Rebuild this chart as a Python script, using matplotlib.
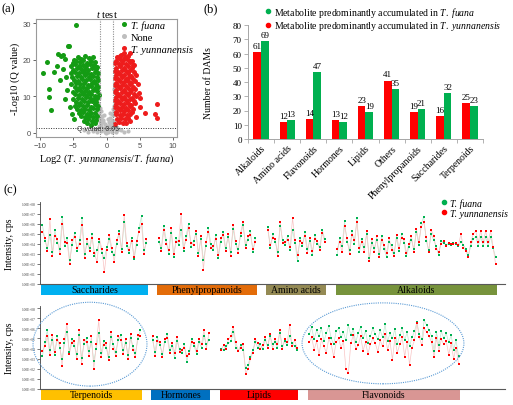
#Recreating the three-panel metabolite figure (volcano, bar chart, intensity strips).
import numpy as np
import matplotlib
matplotlib.use("Agg")
import matplotlib.pyplot as plt
from matplotlib.patches import Rectangle, Ellipse
from matplotlib.lines import Line2D

plt.rcParams['font.family'] = ['Liberation Serif', 'DejaVu Serif']
plt.rcParams['mathtext.fontset'] = 'custom'
plt.rcParams['mathtext.rm'] = 'Liberation Serif'
plt.rcParams['mathtext.it'] = 'Liberation Serif:italic'

#---------------- (a) volcano data: log2 fold change / -log10 Q ----------------
fuana_x = [-9.6, -8.9, -8.7, -8.6, -8.4, -7.9, -7.4, -7.3, -6.9, -6.6, -6.2, -5.8, -5.6, -4.6, -7.0, -6.5, -6.1, -5.9, -6.3, -5.5, -5.2, -4.9,
           -4.9, -4.3, -3.8, -3.2, -2.6, -2.0,
           -5.1, -4.6, -4.0, -3.5, -2.9, -2.3, -1.7,
           -5.3, -4.8, -4.2, -3.6, -3.1, -2.5, -1.9, -1.4,
           -5.0, -4.4, -3.9, -3.3, -2.8, -2.2, -1.6,
           -5.4, -4.7, -4.1, -3.5, -3.0, -2.4, -1.8, -1.3,
           -5.2, -4.5, -3.8, -3.2, -2.7, -2.1, -1.5,
           -4.9, -4.3, -3.7, -3.1, -2.5, -1.9, -1.3,
           -5.3, -4.6, -4.0, -3.4, -2.8, -2.2, -1.6,
           -4.8, -4.2, -3.6, -3.0, -2.4, -1.8, -1.3,
           -5.1, -4.4, -3.8, -3.2, -2.6, -2.0, -1.5,
           -4.7, -4.1, -3.5, -2.9, -2.3, -1.7, -1.2,
           -5.0, -4.3, -3.7, -3.1, -2.5, -1.9, -1.4,
           -4.6, -4.0, -3.4, -2.8, -2.2, -1.6,
           -4.8, -4.2, -3.6, -3.0, -2.4, -1.8, -1.3,
           -4.4, -3.8, -3.2, -2.6, -2.0, -1.5,
           -4.1, -3.5, -2.9, -2.3, -1.7,
           -3.8, -3.2, -2.6, -2.0, -1.4,
           -3.4, -2.8, -2.2, -1.6,
           -3.0, -2.4, -1.8]
fuana_y = [16.5, 19.3, 12.1, 9.8, 6.2, 16.8, 18.2, 21.7, 21.2, 21.4, 20.3, 23.8, 23.9, 29.5, 14.5, 17.5, 15.2, 11.8, 9.4, 7.0, 5.3, 3.8,
           20.1, 20.8, 20.3, 21.0, 20.4, 20.7,
           19.2, 19.8, 19.4, 19.9, 19.1, 19.6, 19.3,
           18.4, 18.9, 18.2, 18.7, 18.3, 18.8, 18.5, 18.1,
           17.3, 17.8, 17.4, 17.6, 17.2, 17.7, 17.4,
           16.4, 16.8, 16.3, 16.7, 16.5, 16.2, 16.8, 16.4,
           15.3, 15.7, 15.4, 15.8, 15.2, 15.6, 15.4,
           14.6, 14.3, 14.7, 14.4, 14.8, 14.2, 14.5,
           13.4, 13.8, 13.3, 13.6, 13.2, 13.7, 13.4,
           12.6, 12.2, 12.7, 12.4, 12.8, 12.3, 12.6,
           11.3, 11.7, 11.4, 11.6, 11.2, 11.8, 11.4,
           10.6, 10.3, 10.8, 10.4, 10.7, 10.2, 10.5,
           9.4, 9.7, 9.3, 9.8, 9.5, 9.2, 9.6,
           8.6, 8.3, 8.7, 8.4, 8.8, 8.5,
           7.4, 7.7, 7.3, 7.6, 7.2, 7.8, 7.5,
           6.6, 6.3, 6.7, 6.4, 6.8, 6.5,
           5.4, 5.7, 5.3, 5.6, 5.5,
           4.6, 4.3, 4.7, 4.4, 4.6,
           3.4, 3.7, 3.3, 3.6,
           2.6, 2.3, 2.7]

yunn_x = [7.6, 7.6, 7.3, 5.8, 5.1, 4.9, 5.0, 4.7, 4.5, 4.2, 3.9, 3.5, 2.6, 2.0, 4.4, 3.6, 2.9, 1.3,
          1.6, 2.2, 2.8, 3.3,
          1.4, 2.0, 2.5, 3.1, 3.6,
          1.3, 1.9, 2.4, 3.0, 3.5, 4.0,
          1.5, 2.1, 2.7, 3.2, 3.8,
          1.3, 1.8, 2.4, 2.9, 3.5, 4.1,
          1.5, 2.1, 2.6, 3.2, 3.7,
          1.3, 1.8, 2.4, 2.9, 3.4, 4.0,
          1.5, 2.1, 2.6, 3.2, 3.7, 4.3,
          1.3, 1.8, 2.4, 2.9, 3.5, 4.0,
          1.5, 2.1, 2.6, 3.2, 3.7, 4.3,
          1.3, 1.8, 2.4, 2.9, 3.5, 4.1,
          1.5, 2.1, 2.6, 3.2, 3.8, 4.4,
          1.3, 1.8, 2.4, 2.9, 3.5, 4.1,
          1.5, 2.1, 2.6, 3.2, 3.7, 4.3,
          1.3, 1.8, 2.4, 2.9, 3.5, 4.0,
          1.5, 2.1, 2.6, 3.2, 3.8,
          1.4, 2.0, 2.5, 3.1, 3.6,
          1.6, 2.2, 2.8, 3.3,
          1.9, 2.5]
yunn_y = [8.0, 4.2, 5.1, 5.6, 7.2, 11.0, 9.5, 13.5, 15.8, 18.5, 19.6, 22.0, 21.8, 21.2, 4.3, 3.2, 2.6, 2.4,
          20.8, 21.3, 20.9, 21.2,
          19.8, 20.2, 19.9, 20.3, 19.7,
          19.1, 18.8, 19.2, 18.9, 19.3, 18.7,
          17.8, 18.2, 17.9, 18.3, 17.7,
          17.1, 16.8, 17.2, 16.9, 17.3, 16.7,
          15.8, 16.2, 15.9, 16.3, 15.7,
          15.1, 14.8, 15.2, 14.9, 15.3, 14.7,
          13.8, 14.2, 13.9, 14.3, 13.7, 14.1,
          13.1, 12.8, 13.2, 12.9, 13.3, 12.7,
          11.8, 12.2, 11.9, 12.3, 11.7, 12.1,
          11.1, 10.8, 11.2, 10.9, 11.3, 10.7,
          9.8, 10.2, 9.9, 10.3, 9.7, 10.1,
          9.1, 8.8, 9.2, 8.9, 9.3, 8.7,
          7.8, 8.2, 7.9, 8.3, 7.7, 8.1,
          7.1, 6.8, 7.2, 6.9, 7.3, 6.7,
          5.8, 6.2, 5.9, 6.3, 5.7,
          5.1, 4.8, 5.2, 4.9, 5.3,
          3.8, 4.2, 3.9, 4.1,
          3.1, 2.8]

none_x = [-0.2, 0.1, 0.3, -0.4, 0.5, -0.6, 0.7, -0.8, 0.9, -1.0, 1.1, -1.1, 1.0, -1.2, 1.2, -1.0, 1.1, -1.3, 1.3, -1.1,
          0.0, 0.2, -0.3, 0.4, -0.5, 0.6, -0.7, 0.8, -0.9, 1.0, -1.5, 1.6, -2.1, 2.2, -2.8, 2.7, -1.8, 1.9, -1.4, 1.4,
          -0.9, 0.9, -0.6, 0.6, -0.8, 0.8, -1.2, 1.2, -0.1, 0.3, -0.4, 0.5, -1.4, 1.4, -1.2, 1.2, -1.3, -3.4, 3.3, -0.05]
none_y = [0.3, 0.5, 0.2, 0.8, 1.0, 1.4, 1.8, 2.2, 2.6, 3.0, 3.4, 4.2, 4.8, 5.5, 6.1, 6.8, 7.4, 8.1, 8.8, 9.5,
          1.2, 2.0, 2.4, 3.0, 3.5, 4.1, 4.7, 5.3, 5.9, 6.6, 1.0, 0.7, 0.5, 0.9, 0.3, 0.4, 1.1, 1.2, 0.2, 0.3,
          0.6, 0.4, 2.9, 2.7, 3.8, 3.6, 2.0, 1.6, 1.8, 3.8, 5.0, 5.6, 7.2, 10.2, 11.0, 12.0, 13.0, 0.9, 0.6, 0.1]

#---------------- (b) number of DAMs ----------------
dam_classes = ['Alkaloids', 'Amino acids', 'Flavonoids', 'Hormones', 'Lipids',
               'Others', 'Phenylpropanoids', 'Saccharides', 'Terpenoids']
dam_yunnanensis = [61, 12, 14, 13, 23, 41, 19, 16, 25]
dam_fuana = [69, 13, 47, 12, 19, 35, 21, 32, 23]

#---------------- (c) log10 intensity per metabolite ----------------
top_classes = ['Saccharides', 'Phenylpropanoids', 'Amino acids', 'Alkaloids']
top_fuana = [
    [5.9, 4.3, 3.6, 4.9, 3.2, 5.4, 4.1, 3.5, 6.7, 3.8, 4.6, 2.4, 3.9, 5.1, 3.3, 4.4, 6.6, 3.0, 4.0, 3.6, 5.0, 2.8,
     3.4, 4.2, 3.1, 2.6, 3.7, 4.5, 3.2, 2.9, 4.0, 5.3, 3.5, 6.2, 3.8, 3.1, 4.6, 2.5, 3.9, 5.6, 6.8, 3.4, 4.1],
    [4.2, 3.6, 5.8, 4.4, 3.0, 5.1, 2.7, 4.6, 3.9, 5.4, 3.3, 4.8, 6.0, 3.7, 4.3, 5.0, 3.1, 4.5, 2.4, 3.8,
     5.6, 4.0, 3.4, 4.9, 2.6, 4.2, 5.2, 3.6, 4.7, 3.2, 5.5, 4.0, 3.5, 4.8, 5.9, 3.9, 4.4, 5.3, 3.2, 4.6],
    [5.7, 3.6, 5.0, 4.2, 3.2, 5.8, 4.4, 3.9, 4.8, 3.4, 5.4, 4.1, 2.3, 4.6, 3.8, 5.2, 3.5, 4.3, 2.9, 4.9, 4.0, 3.7, 5.4, 4.5],
    [2.9, 4.6, 3.8, 6.3, 4.2, 3.4, 5.3, 4.0, 6.6, 3.2, 4.5, 3.7, 5.0, 2.6, 4.1, 3.6, 4.4, 3.0, 4.8, 3.5, 2.7, 4.2,
     3.9, 3.1, 4.6, 3.3, 5.0, 4.1, 2.8, 3.7, 4.4, 3.5, 5.2, 3.9, 6.1, 6.7, 4.3, 3.4, 5.0, 4.4, 3.8, 2.9, 4.3, 4.1,
     3.9, 4.0, 3.9, 4.1, 4.0, 3.8, 4.2, 3.9, 3.5, 2.9, 3.8, 4.5, 4.7, 3.8, 4.7, 3.8, 4.7, 3.8, 4.7, 3.6, 2.7]]
top_yunnanensis = [
    [5.2, 4.6, 3.3, 6.5, 2.8, 4.8, 4.5, 3.0, 6.0, 4.2, 4.1, 2.0, 4.4, 4.7, 3.6, 4.0, 5.9, 2.6, 4.5, 3.3, 4.6, 3.1,
     2.2, 4.5, 3.5, 1.2, 3.4, 4.9, 3.6, 2.2, 4.4, 5.0, 3.2, 6.9, 4.1, 3.4, 4.3, 2.7, 4.3, 5.2, 6.0, 3.0, 4.5],
    [4.6, 3.3, 5.4, 4.0, 3.4, 5.6, 3.0, 4.2, 4.3, 7.0, 3.6, 4.4, 5.6, 4.1, 3.9, 5.3, 2.8, 4.8, 1.4, 4.2,
     5.2, 3.6, 3.8, 4.5, 2.9, 4.6, 4.9, 3.3, 5.0, 2.8, 5.9, 4.3, 3.1, 5.1, 6.2, 3.6, 4.8, 4.9, 3.5, 4.2],
    [5.4, 3.9, 4.6, 4.5, 2.8, 6.2, 4.1, 4.2, 4.4, 3.7, 6.6, 4.4, 2.9, 4.3, 4.1, 4.8, 3.1, 4.6, 3.3, 4.5, 4.3, 3.4, 5.1, 4.2],
    [3.5, 4.2, 3.2, 5.8, 4.6, 3.0, 4.9, 4.4, 6.2, 3.6, 4.2, 3.2, 5.3, 2.3, 4.5, 3.2, 4.8, 2.7, 4.4, 3.9, 3.1, 4.6,
     3.4, 2.8, 4.9, 3.6, 4.6, 4.5, 3.1, 4.0, 4.8, 3.2, 5.5, 4.2, 5.7, 6.2, 4.7, 3.2, 5.4, 4.8, 3.5, 3.2, 4.0, 4.3,
     3.8, 4.1, 4.0, 4.0, 4.1, 3.9, 5.0, 3.6, 3.3, 2.7, 4.2, 5.0, 5.3, 4.2, 5.3, 4.2, 5.3, 4.2, 5.3, 3.7, 2.0]]

bottom_classes = ['Terpenoids', 'Hormones', 'Lipids', 'Flavonoids']
bottom_fuana = [
    [3.3, 4.6, 5.8, 3.9, 4.8, 3.4, 5.2, 4.1, 3.0, 4.5, 5.6, 3.7, 4.9, 4.2, 3.5, 5.3, 3.1, 4.4, 5.0, 3.8, 4.6,
     2.8, 4.0, 5.5, 3.6, 4.7, 4.1, 3.2, 5.1, 4.4, 3.7, 4.8, 5.3, 3.9, 4.5, 3.4, 5.0, 4.2, 3.6, 4.9, 5.8],
    [4.8, 3.7, 5.1, 4.3, 3.5, 4.6, 5.4, 3.9, 4.2, 3.1, 4.7, 4.0, 3.6, 4.4, 2.7, 3.8, 4.9, 4.2, 3.5, 4.6, 4.1, 5.2, 4.4, 4.8],
    [4.0, 3.9, 4.2, 4.5, 4.7, 5.6, 4.1, 3.8, 4.3, 3.9, 2.1, 2.4, 3.2, 3.9, 4.6, 4.1, 4.4, 4.0, 4.8, 4.3, 5.2, 4.4,
     4.6, 4.1, 5.5, 4.2, 4.7, 4.3, 5.2, 4.5, 4.2, 3.9],
    [5.4, 6.1, 4.9, 5.8, 5.2, 6.0, 4.7, 5.5, 6.2, 5.0, 4.4, 5.7, 6.0, 5.1, 5.6, 4.8, 6.3, 5.3, 5.9, 4.6, 5.5, 6.1,
     5.0, 5.7, 4.5, 5.2, 6.0, 5.4, 4.9, 5.8, 5.1, 6.4, 4.7, 5.5, 5.0, 5.9, 4.4, 5.3, 6.0, 4.8, 5.6, 4.2, 5.1, 5.7,
     6.6, 5.4, 4.9, 6.8, 6.3, 5.8, 5.2, 3.8, 5.6, 4.3, 5.7, 5.0, 5.5, 4.6, 5.3, 3.9, 4.8, 3.3]]
bottom_yunnanensis = [
    [3.8, 4.2, 5.2, 3.4, 5.3, 3.7, 4.8, 4.5, 2.3, 4.9, 6.4, 3.5, 4.5, 4.7, 3.0, 5.8, 2.5, 4.8, 4.6, 3.3, 5.2,
     2.0, 4.4, 6.8, 3.2, 4.3, 4.5, 2.9, 5.6, 4.0, 3.3, 5.2, 4.8, 3.5, 4.9, 3.0, 5.4, 3.9, 3.2, 5.3, 5.2],
    [5.2, 3.3, 4.7, 4.6, 3.2, 4.9, 5.0, 3.6, 4.5, 3.6, 5.1, 3.7, 3.9, 4.1, 3.3, 3.5, 4.6, 4.5, 3.8, 4.9, 4.4, 5.8, 4.0, 5.5],
    [3.9, 4.3, 4.0, 4.9, 5.2, 6.1, 4.6, 3.8, 4.1, 4.4, 1.5, 2.0, 3.0, 3.6, 4.9, 4.5, 4.0, 4.3, 5.1, 4.1, 5.4, 4.0,
     4.9, 4.4, 5.8, 4.0, 4.9, 4.6, 6.3, 4.2, 4.8, 4.1],
    [4.6, 5.1, 3.9, 4.7, 3.4, 4.9, 4.2, 3.6, 5.0, 4.4, 3.2, 4.6, 5.0, 4.1, 4.7, 2.0, 1.6, 4.5, 5.3, 4.0, 4.3, 5.2,
     3.8, 4.6, 3.5, 4.4, 5.0, 4.5, 3.7, 4.8, 4.2, 5.4, 3.9, 4.7, 2.9, 5.0, 3.6, 4.4, 5.1, 3.2, 4.6, 2.4, 4.1, 4.8,
     6.5, 5.1, 4.3, 6.0, 5.6, 5.2, 4.6, 3.2, 5.0, 3.8, 4.9, 4.4, 4.7, 3.4, 4.5, 3.0, 4.1, 2.5]]

#Colours.
V_GREEN = '#149B14'
V_RED = '#EE1C1C'
V_GRAY = '#BEBEBE'
B_GREEN = '#00B050'
B_RED = '#FF0000'
top_colors = ['#00B0F0', '#E36C09', '#948A54', '#77933C']
bottom_colors = ['#FFC000', '#0070C0', '#FF0000', '#D99694']

W, H = 513, 406

#Converts a pixel box of the reference into a figure rect.
def box(left, top, right, bottom):
    return [left / W, 1 - bottom / H, (right - left) / W, (bottom - top) / H]

fig = plt.figure(figsize=(W / 100, H / 100), dpi=100)

#---------------- panel (a) ----------------
ax_a = fig.add_axes(box(36, 20, 177, 138))
ax_a.scatter(none_x, none_y, s=9, c=V_GRAY, linewidths=0)
ax_a.scatter(fuana_x, fuana_y, s=13, c=V_GREEN, linewidths=0)
ax_a.scatter(yunn_x, yunn_y, s=13, c=V_RED, linewidths=0)
ax_a.axvline(-1, color='#8C8C8C', lw=0.8, ls=(0, (1, 1.2)))
ax_a.axvline(1, color='#8C8C8C', lw=0.8, ls=(0, (1, 1.2)))
q_line = -np.log10(0.05)
ax_a.axhline(q_line, color='#333333', lw=0.7, ls=(0, (1, 1.5)))
ax_a.text(-1.3, q_line, 'Q value: 0.05', fontsize=5, family='Liberation Sans',
          color='#333333', ha='center', va='center')
ax_a.set_xlim(-10.6, 10.6)
ax_a.set_ylim(-1.1, 31.2)
ax_a.set_xticks([-10, -5, 0, 5, 10])
ax_a.set_yticks([0, 10, 20, 30])
ax_a.tick_params(labelsize=5.5, colors='#4D4D4D', length=2, width=0.6, pad=1.5)
for lab in ax_a.get_xticklabels() + ax_a.get_yticklabels():
    lab.set_family('Liberation Sans')
for sp in ax_a.spines.values():
    sp.set_color('#9A9A9A')
    sp.set_linewidth(0.8)
ax_a.set_title(r'$\mathit{t}$ test', fontsize=7.5, pad=1.5)
ax_a.set_xlabel(r'Log2 ($\mathit{T.\ yunnanensis/T.\ fuana}$)', fontsize=7.5, labelpad=2)
ax_a.set_ylabel('-Log10 (Q value)', fontsize=7.5, labelpad=2)
a_handles = [Line2D([], [], ls='', marker='o', ms=2.6, color=V_GREEN),
             Line2D([], [], ls='', marker='o', ms=2.6, color=V_GRAY),
             Line2D([], [], ls='', marker='o', ms=2.6, color=V_RED)]
leg_a = fig.legend(a_handles, ['T. fuana', 'None', 'T. yunnanensis'], loc='upper left',
                   bbox_to_anchor=(116 / W, 1 - 16 / H), frameon=False, fontsize=7.5,
                   handlelength=0.5, handletextpad=0.4, labelspacing=0.25, borderpad=0)
leg_a.get_texts()[0].set_fontstyle('italic')
leg_a.get_texts()[2].set_fontstyle('italic')
fig.text(2 / W, 1 - 3 / H, '(a)', fontsize=9, va='top')

#---------------- panel (b) ----------------
ax_b = fig.add_axes(box(248, 26, 483, 140))
x = np.arange(len(dam_classes))
bw = 0.29
bars_y = ax_b.bar(x - bw / 2, dam_yunnanensis, bw, color=B_RED)
bars_f = ax_b.bar(x + bw / 2, dam_fuana, bw, color=B_GREEN)
ax_b.bar_label(bars_y, padding=1.5, fontsize=6.5)
ax_b.bar_label(bars_f, padding=1.5, fontsize=6.5)
ax_b.set_xlim(-0.5, len(dam_classes) - 0.5)
ax_b.set_ylim(0, 80)
ax_b.set_yticks(np.arange(0, 81, 10))
ax_b.set_xticks(np.arange(-0.5, len(dam_classes)), minor=False)
ax_b.set_xticklabels([])
ax_b.set_xticks(x, minor=True)
ax_b.set_xticklabels(dam_classes, minor=True, rotation=45, ha='right',
                     rotation_mode='anchor', fontsize=7)
ax_b.tick_params(axis='x', which='minor', length=0, pad=3)
ax_b.tick_params(axis='x', which='major', length=3, width=0.6, color='#A6A6A6')
ax_b.tick_params(axis='y', labelsize=6.5, length=3, width=0.6, color='#A6A6A6', pad=1.5)
for side in ['top', 'right']:
    ax_b.spines[side].set_visible(False)
for side in ['left', 'bottom']:
    ax_b.spines[side].set_color('#A6A6A6')
    ax_b.spines[side].set_linewidth(0.7)
ax_b.set_ylabel('Number of DAMs', fontsize=7)
ax_b.yaxis.set_label_coords(-0.15, 0.5)
b_handles = [Line2D([], [], ls='', marker='o', ms=3, color=B_GREEN),
             Line2D([], [], ls='', marker='o', ms=3, color=B_RED)]
fig.legend(b_handles,
           [r'Metabolite predominantly accumulated in $\mathit{T.\ fuana}$',
            r'Metabolite predominantly accumulated in $\mathit{T.\ yunnanensis}$'],
           loc='upper left', bbox_to_anchor=(261 / W, 1 - 1 / H), frameon=False,
           fontsize=7, handlelength=0.5, handletextpad=0.3, labelspacing=0.05, borderpad=0)
fig.text(203 / W, 1 - 3 / H, '(b)', fontsize=9, va='top')

#---------------- panel (c) ----------------
def draw_strip(ax, names, fua_sets, yun_sets, colors, xmax, gap=4):
    start = 0
    for name, fua, yun, col in zip(names, fua_sets, yun_sets, colors):
        xs = np.arange(start, start + len(fua))
        fv = 10.0 ** np.array(fua)
        yv = 10.0 ** np.array(yun)
        ax.plot(xs, fv, color='#BFE9CF', lw=0.5, zorder=1)
        ax.plot(xs, yv, color='#F8C4C4', lw=0.5, zorder=1)
        ax.plot(xs, fv, ls='', marker='s', ms=1.7, mew=0, color=B_GREEN, zorder=2)
        ax.plot(xs, yv, ls='', marker='s', ms=1.7, mew=0, color=B_RED, zorder=3)
        x0 = start - 0.6
        x1 = start + len(fua) - 0.4
        ax.add_patch(Rectangle((x0, -0.135), x1 - x0, 0.125, transform=ax.get_xaxis_transform(),
                               facecolor=col, edgecolor='none', clip_on=False))
        ax.text((x0 + x1) / 2, -0.07, name, transform=ax.get_xaxis_transform(),
                ha='center', va='center', fontsize=7)
        start += len(fua) + gap
    ax.set_yscale('log')
    ax.set_ylim(1, 10 ** 8.2)
    ax.set_xlim(-1.0, xmax)
    ax.set_yticks([10.0 ** k for k in range(9)])
    ax.set_yticklabels(['1.00E+%02d' % k for k in range(9)])
    ax.minorticks_off()
    ax.set_xticks([])
    ax.tick_params(axis='y', labelsize=2.6, length=2, width=0.5, pad=1, colors='#404040')
    for side in ['top', 'right']:
        ax.spines[side].set_visible(False)
    ax.spines['left'].set_color('#404040')
    ax.spines['left'].set_linewidth(0.6)
    ax.spines['bottom'].set_color('#595959')
    ax.spines['bottom'].set_linewidth(0.8)
    ax.set_ylabel('Intensity, cps', fontsize=7)
    ax.yaxis.set_label_coords(-0.055, 0.5)

ax_c1 = fig.add_axes(box(40, 203, 505, 285))
draw_strip(ax_c1, top_classes, top_fuana, top_yunnanensis, top_colors, 186.8)
ax_c2 = fig.add_axes(box(40, 307, 505, 390))
draw_strip(ax_c2, bottom_classes, bottom_fuana, bottom_yunnanensis, bottom_colors, 189.0)

for cx, cy, ew, eh in [(0.1075, 0.54, 0.245, 1.01), (0.7376, 0.55, 0.348, 0.975)]:
    ax_c2.add_patch(Ellipse((cx, cy), ew, eh, transform=ax_c2.transAxes, fill=False,
                            edgecolor='#5B9BD5', lw=0.8, ls=(0, (1, 1)), clip_on=False, zorder=5))

c_handles = [Line2D([], [], ls='', marker='o', ms=3, color=B_GREEN),
             Line2D([], [], ls='', marker='o', ms=3, color=B_RED)]
fig.legend(c_handles, ['T. fuana', 'T. yunnanensis'], loc='upper left',
           bbox_to_anchor=(437 / W, 1 - 194 / H), frameon=False,
           prop={'size': 7, 'style': 'italic', 'family': 'Liberation Serif'},
           handlelength=0.5, handletextpad=0.3, labelspacing=0.1, borderpad=0)
fig.text(3 / W, 1 - 184 / H, '(c)', fontsize=9, va='top')

fig.savefig('out.png', dpi=100)
